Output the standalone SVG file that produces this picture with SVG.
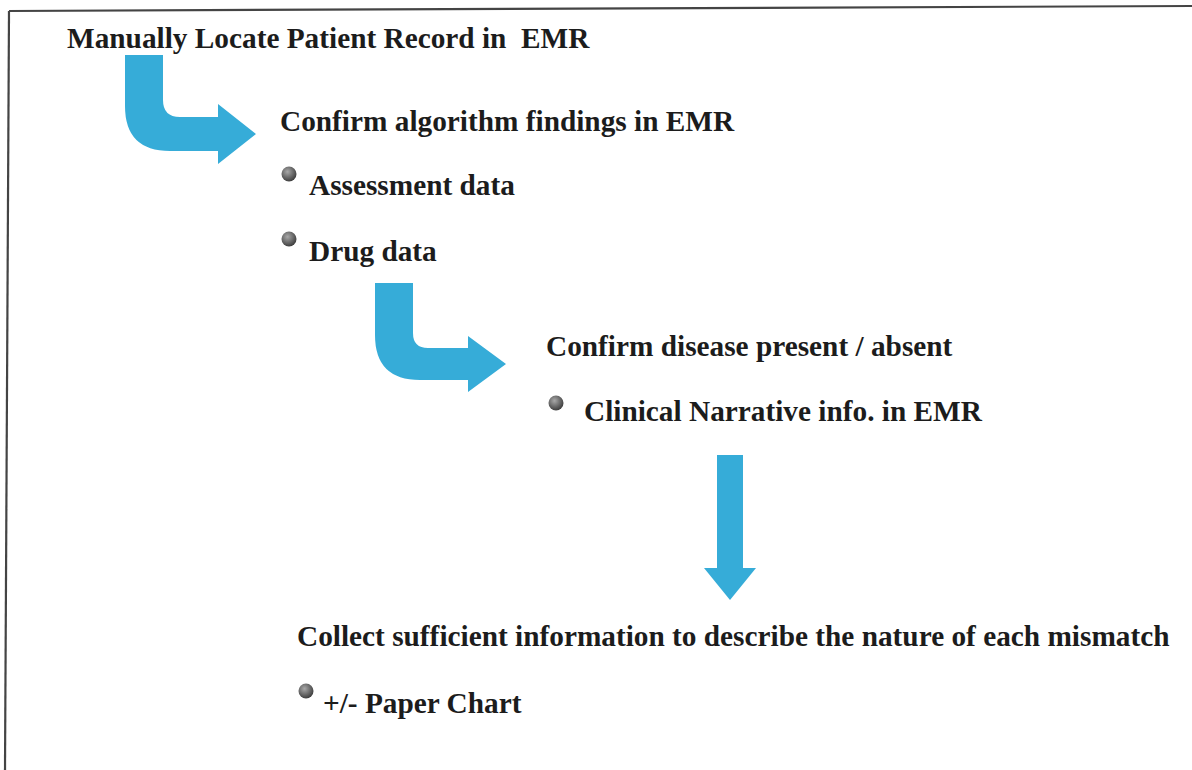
<svg xmlns="http://www.w3.org/2000/svg" width="1192" height="770" viewBox="0 0 1192 770">
  <style>
    .t { font-family: "Liberation Serif", "Times New Roman", serif; font-weight: bold; font-size: 29.3px; fill: #1c1c1c; }
    .arrow { fill: #36acd8; }
    .bullet { fill: url(#ball); }
    .frame { stroke: #444; stroke-width: 2.2; fill: none; }
  </style>
  <defs>
    <radialGradient id="ball" cx="0.4" cy="0.35" r="0.65">
      <stop offset="0" stop-color="#a8a8a8"/>
      <stop offset="1" stop-color="#3f3f3f"/>
    </radialGradient>
  </defs>
  <rect width="1192" height="770" fill="#ffffff"/>

  <!-- page frame (top and left edges) -->
  <g id="frame">
    <path class="frame" d="M9,11 L1192,6"/>
    <path class="frame" d="M9,11 L5,770"/>
  </g>

  <!-- flow arrows -->
  <g id="connectors">
    <path class="arrow" d="M125,55 L163,55 L163,100 Q163,117 180,117 L218,117 L218,104 L256,134 L218,164 L218,151 L170,151 Q125,151 125,106 Z"/>
    <path class="arrow" d="M375,283 L413,283 L413,333 Q413,348 428,348 L468,348 L468,336 L506,364 L468,392 L468,380 L420,380 Q375,380 375,335 Z"/>
    <path class="arrow" d="M717,455 L743,455 L743,568 L756,568 L730,600 L704,568 L717,568 Z"/>
  </g>

  <g id="step-locate">
    <text class="t" x="67" y="48" xml:space="preserve">Manually Locate Patient Record in  EMR</text>
  </g>

  <g id="step-confirm-findings">
    <text class="t" x="280" y="131">Confirm algorithm findings in EMR</text>
    <circle class="bullet" cx="289" cy="174" r="7.5"/>
    <text class="t" x="309" y="195">Assessment data</text>
    <circle class="bullet" cx="289" cy="239" r="7.5"/>
    <text class="t" x="309" y="261">Drug data</text>
  </g>

  <g id="step-confirm-disease">
    <text class="t" x="546" y="356">Confirm disease present / absent</text>
    <circle class="bullet" cx="556" cy="403" r="7.5"/>
    <text class="t" x="584" y="421">Clinical Narrative info. in EMR</text>
  </g>

  <g id="step-collect">
    <text class="t" x="297" y="646">Collect sufficient information to describe the nature of each mismatch</text>
    <circle class="bullet" cx="306" cy="691" r="7.5"/>
    <text class="t" x="323" y="713">+/- Paper Chart</text>
  </g>
</svg>
